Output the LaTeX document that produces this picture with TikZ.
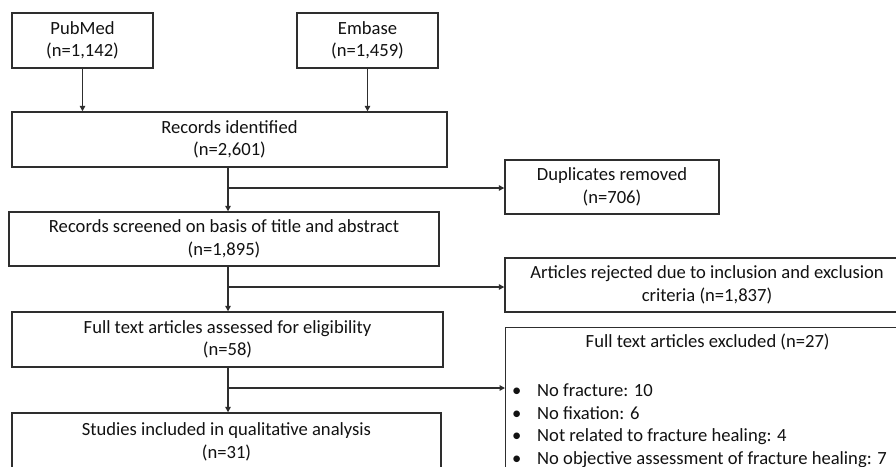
\documentclass[tikz,border=0pt]{standalone}
\usepackage{fontspec}
\setmainfont{Carlito}
\usetikzlibrary{arrows.meta,positioning,calc}
\definecolor{flowline}{HTML}{2E2E2E}
\definecolor{flowtext}{HTML}{121212}

\begin{document}
\begin{tikzpicture}[x=1pt, y=-1pt,
    box/.style={draw=flowline, line width=1.4pt, align=center, text=flowtext, inner sep=0pt, font=\fontsize{18.6}{22.5}\selectfont},
    arrow/.style={-{Triangle[length=5.5pt, width=5.5pt]}, line width=1.3pt, color=flowline},
    lst/.style={align=left, text=flowtext, inner sep=0pt, font=\fontsize{18.6}{22.5}\selectfont}
  ]
    \clip (0,0) rectangle (896,466);
    \fill[white] (0,0) rectangle (896,466);

    % main column
    \node[box, minimum width=141pt, minimum height=55pt] (pubmed) at (82.5,40.5) {PubMed\\(n=1,142)};
    \node[box, minimum width=141pt, minimum height=55pt] (embase) at (367.5,40.5) {Embase\\(n=1,459)};
    \node[box, minimum width=435pt, minimum height=55pt] (ident) at (229.5,139.5) {Records identified\\(n=2,601)};
    \node[box, minimum width=430pt, minimum height=54pt] (screen) at (224,239) {Records screened on basis of title and abstract\\(n=1,895)};
    \node[box, minimum width=431pt, minimum height=55pt] (elig) at (227.5,339.5) {Full text articles assessed for eligibility\\(n=58)};
    \node[box, minimum width=429pt, minimum height=58pt] (studies) at (226.5,442) {Studies included in qualitative analysis\\(n=31)};

    % side boxes
    \node[box, minimum width=214pt, minimum height=54pt] (dup) at (612,187) {Duplicates removed\\(n=706)};
    \node[box, minimum width=404pt, minimum height=54pt] (reject) at (707,285) {Articles rejected due to inclusion and exclusion\\criteria (n=1,837)};
    \node[box, minimum width=404pt, minimum height=150pt, anchor=north west] (excl) at (505,327) {};
    \node[lst, below=7pt of excl.north] (excltitle) {Full text articles excluded (n=27)};
    \node[lst, anchor=north west] (excllist) at (512,384) {%
      \makebox[25pt][l]{\textbullet}No fracture: 10\\
      \makebox[25pt][l]{\textbullet}No fixation: 6\\
      \makebox[25pt][l]{\textbullet}Not related to fracture healing: 4\\
      \makebox[25pt][l]{\textbullet}No objective assessment of fracture healing: 7};

    \coordinate (b1) at (228,188);
    \coordinate (b2) at (228,287);
    \coordinate (b3) at (228,388);

    \draw[arrow] (pubmed.south) -- (pubmed.south |- ident.north);
    \draw[arrow] (embase.south) -- (embase.south |- ident.north);
    \draw[arrow] (b1 |- ident.south) -- (b1 |- screen.north);
    \draw[arrow] (b2 |- screen.south) -- (b2 |- elig.north);
    \draw[arrow] (b3 |- elig.south) -- (b3 |- studies.north);
    \draw[arrow] (b1) -- (b1 -| dup.west);
    \draw[arrow] (b2) -- (b2 -| reject.west);
    \draw[arrow] (b3) -- (b3 -| excl.west);
  \end{tikzpicture}
\end{document}
